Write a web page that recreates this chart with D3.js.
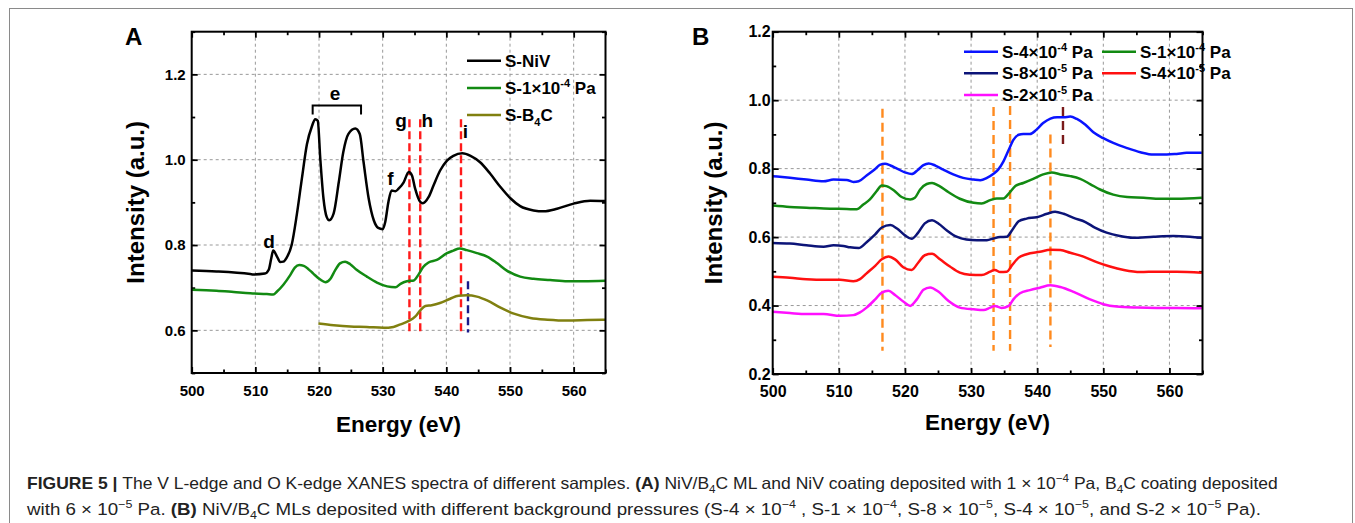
<!DOCTYPE html>
<html>
<head>
<meta charset="utf-8">
<script src="https://cdn.jsdelivr.net/npm/d3@7"></script>
<style>
  body { margin: 0; background: #fff; }
  svg { display: block; font-family: "Liberation Sans", Arial, sans-serif; }
</style>
</head>
<body>
<svg id="chart" width="1355" height="523"></svg>
<script>
// ---- panel A data (eV, intensity) ----
const nivA = [[500,0.740],[503.9,0.738],[509.2,0.732],[509.7,0.731],[511.5,0.733],[512.1,0.742],[512.5,0.769],[512.8,0.787],[513.4,0.773],[513.9,0.760],[514.4,0.761],[514.9,0.770],[515.7,0.800],[516.5,0.870],[517.3,0.955],[518.1,1.036],[518.9,1.079],[519.4,1.095],[519.8,1.091],[520.2,1.002],[520.7,0.909],[521.2,0.866],[521.6,0.858],[522.3,0.874],[523.1,0.947],[523.8,1.017],[524.6,1.060],[525.7,1.073],[526.4,1.060],[527.0,0.994],[527.8,0.909],[528.6,0.858],[529.3,0.840],[530.0,0.837],[530.4,0.854],[530.9,0.901],[531.4,0.928],[532.0,0.926],[532.5,0.932],[533.3,0.947],[534.1,0.971],[534.6,0.963],[535.1,0.932],[535.9,0.901],[536.3,0.898],[537.2,0.912],[538.0,0.940],[539.0,0.974],[540.1,0.998],[541.1,1.009],[542.5,1.015],[543.8,1.009],[545.3,0.994],[546.9,0.967],[548.5,0.936],[550.1,0.909],[551.6,0.891],[553.7,0.881],[555.3,0.879],[557.4,0.885],[560.0,0.897],[562.6,0.904],[565.0,0.903]];
const p1e4A = [[500,0.695],[503.9,0.693],[506.6,0.690],[509.2,0.687],[511.8,0.685],[512.8,0.684],[513.4,0.691],[514.4,0.707],[515.5,0.730],[516.2,0.747],[516.9,0.753],[517.6,0.751],[518.3,0.744],[519.1,0.733],[520.2,0.719],[521.0,0.713],[521.8,0.721],[522.5,0.740],[523.3,0.757],[524.1,0.761],[524.9,0.755],[525.9,0.742],[527.5,0.726],[529.1,0.712],[530.7,0.703],[532.0,0.701],[532.8,0.709],[533.8,0.715],[534.9,0.717],[535.6,0.730],[536.4,0.749],[537.2,0.759],[538.5,0.765],[540.1,0.781],[541.1,0.787],[542.1,0.792],[543.2,0.788],[544.8,0.781],[546.4,0.773],[548.0,0.757],[549.5,0.740],[551.6,0.726],[553.7,0.721],[556.3,0.718],[559.0,0.715],[561.6,0.715],[565.0,0.716]];
const b4cA = [[519.9,0.616],[522.3,0.612],[524.9,0.609],[527.5,0.608],[530.1,0.606],[531.7,0.608],[532.8,0.614],[534.1,0.622],[535.1,0.632],[535.9,0.647],[536.7,0.657],[537.7,0.659],[539.0,0.664],[540.6,0.674],[541.9,0.681],[543.2,0.682],[544.8,0.679],[546.4,0.670],[548.5,0.653],[550.6,0.639],[553.2,0.629],[555.9,0.625],[559.0,0.623],[562.1,0.624],[565.0,0.625]];

// ---- panel B data (eV, intensity) ----
const p4e4B = [[500,0.778],[502.6,0.773],[505.1,0.768],[507.7,0.763],[509.2,0.768],[511.2,0.767],[512.2,0.761],[513.0,0.763],[514.2,0.780],[515.5,0.799],[516.2,0.811],[517.0,0.814],[517.8,0.809],[518.8,0.800],[520.0,0.789],[521.0,0.784],[522.0,0.797],[522.8,0.810],[523.6,0.815],[524.6,0.809],[525.8,0.797],[527.3,0.783],[528.8,0.773],[530.4,0.768],[531.4,0.766],[532.4,0.773],[533.4,0.785],[534.1,0.797],[534.9,0.821],[535.7,0.855],[536.4,0.884],[537.2,0.899],[537.9,0.901],[538.9,0.901],[539.9,0.914],[540.9,0.933],[542.0,0.946],[543.0,0.950],[544.0,0.950],[545.0,0.952],[546.0,0.945],[547.3,0.928],[548.5,0.906],[550.0,0.889],[551.5,0.875],[553.6,0.860],[555.6,0.848],[557.6,0.841],[559.6,0.841],[561.1,0.843],[562.6,0.846],[564.9,0.846]];
const p1e4B = [[500,0.692],[502.6,0.688],[505.1,0.686],[508.7,0.683],[511.2,0.682],[512.7,0.681],[513.7,0.695],[514.7,0.710],[515.7,0.734],[516.5,0.751],[517.2,0.749],[518.3,0.737],[519.5,0.717],[520.8,0.710],[521.5,0.715],[522.3,0.739],[523.3,0.755],[524.1,0.758],[525.1,0.750],[526.6,0.731],[528.3,0.712],[530.4,0.700],[531.6,0.698],[532.9,0.708],[533.9,0.713],[534.9,0.713],[535.7,0.727],[536.7,0.749],[537.9,0.758],[539.4,0.770],[540.9,0.783],[542.2,0.789],[543.5,0.783],[545.0,0.778],[546.5,0.770],[548.0,0.755],[549.5,0.739],[551.5,0.724],[553.6,0.717],[556.1,0.715],[558.6,0.712],[561.1,0.712],[564.9,0.715]];
const p8e5B = [[500,0.583],[502.6,0.581],[505.1,0.576],[507.7,0.572],[509.2,0.576],[510.7,0.574],[511.7,0.570],[513.0,0.568],[514.2,0.585],[515.5,0.608],[516.5,0.628],[517.8,0.635],[518.8,0.625],[520.0,0.605],[521.0,0.595],[522.0,0.613],[523.0,0.640],[524.1,0.649],[525.1,0.639],[526.3,0.620],[527.8,0.601],[529.3,0.593],[530.9,0.591],[532.4,0.591],[533.4,0.596],[534.4,0.600],[535.4,0.601],[536.2,0.620],[537.2,0.646],[538.4,0.654],[539.9,0.658],[541.5,0.668],[542.7,0.674],[544.0,0.668],[545.5,0.656],[547.3,0.644],[548.8,0.627],[550.5,0.613],[552.5,0.603],[554.5,0.598],[557.6,0.601],[560.6,0.603],[563.1,0.601],[564.9,0.598]];
const p4e5B = [[500,0.484],[502.6,0.481],[505.1,0.477],[507.7,0.475],[510.2,0.475],[512.2,0.471],[513.2,0.477],[514.2,0.494],[515.5,0.516],[516.5,0.535],[517.5,0.543],[518.5,0.535],[519.8,0.511],[521.0,0.504],[522.0,0.525],[523.0,0.547],[524.1,0.551],[525.3,0.535],[526.8,0.514],[528.3,0.496],[529.8,0.490],[531.6,0.489],[532.9,0.499],[533.6,0.504],[534.4,0.498],[535.4,0.499],[536.2,0.518],[537.2,0.540],[538.4,0.550],[540.4,0.557],[542.0,0.563],[543.5,0.562],[545.0,0.554],[547.0,0.543],[549.0,0.527],[551.0,0.514],[553.1,0.504],[555.6,0.498],[558.1,0.499],[561.1,0.499],[564.9,0.496]];
const p2e5B = [[500,0.382],[502.6,0.378],[505.1,0.375],[507.7,0.375],[510.2,0.370],[512.2,0.372],[513.2,0.380],[514.2,0.394],[515.5,0.418],[516.5,0.438],[517.5,0.443],[518.5,0.431],[519.8,0.411],[520.8,0.399],[521.8,0.418],[522.8,0.446],[523.8,0.453],[525.1,0.440],[526.6,0.413],[528.3,0.394],[530.4,0.389],[531.9,0.387],[532.9,0.394],[533.6,0.399],[534.6,0.393],[535.7,0.399],[536.4,0.418],[537.4,0.436],[538.9,0.445],[540.4,0.452],[542.0,0.459],[543.5,0.454],[545.5,0.440],[548.0,0.418],[550.0,0.404],[552.0,0.397],[555.1,0.394],[558.1,0.393],[561.1,0.393],[564.9,0.392]];

// ---- ticks ----
const xMajor = [500, 510, 520, 530, 540, 550, 560];
const xMinor = [505, 515, 525, 535, 545, 555, 565];
const yMajorA = [0.6, 0.8, 1.0, 1.2];
const yMinorA = [0.5, 0.7, 0.9, 1.1, 1.3];
const yMajorB = [0.2, 0.4, 0.6, 0.8, 1.0, 1.2];
const yMinorB = [0.3, 0.5, 0.7, 0.9, 1.1];

// ---- marker lines: [eV, from, to] ----
const redMarksA = [[534.2, 0.59, 1.095], [535.9, 0.59, 1.095], [542.3, 0.59, 1.095]];
const blueMarksA = [[543.4, 0.595, 0.715]];
const orangeMarksB = [[516.6, 0.268, 0.975], [533.4, 0.268, 0.98], [535.9, 0.268, 0.983], [542.0, 0.279, 0.90]];
const darkRedMarksB = [[543.9, 0.867, 0.98]];

// peak letters in panel A: [label, eV, intensity]
const peakLabelsA = [["d", 512.15, 0.792], ["e", 522.5, 1.141], ["f", 531.2, 0.941], ["g", 532.9, 1.076], ["h", 537.0, 1.076], ["i", 543.0, 1.050]];
const bracketA = [519.0, 526.6, 1.127, 1.106];

const svg = d3.select("#chart");

// outer frame of the figure
svg.append("rect")
  .attr("x", 9.5).attr("y", 8.5)
  .attr("width", 1343).attr("height", 530)
  .attr("fill", "none").attr("stroke", "#8a8a8a").attr("stroke-width", 1);

const layerGrid = svg.append("g");
const layerMain = svg.append("g");

function panel(cfg) {
  const g = layerMain.append("g");
  const x = d3.scaleLinear().domain([500, 565]).range([cfg.left, cfg.right]);
  const y = d3.scaleLinear().domain(cfg.yDomain).range([cfg.bottom, cfg.top]);

  // dashed grid
  layerGrid.append("g").selectAll("line")
    .data(xMajor.filter(v => v > 500))
    .join("line")
    .attr("x1", d => x(d)).attr("x2", d => x(d))
    .attr("y1", cfg.top).attr("y2", cfg.bottom)
    .attr("stroke", "#999").attr("stroke-width", 1).attr("stroke-dasharray", "3,3");
  layerGrid.append("g").selectAll("line")
    .data(cfg.yMajor.filter(v => v < cfg.yDomain[1]))
    .join("line")
    .attr("x1", cfg.left).attr("x2", cfg.right)
    .attr("y1", d => y(d)).attr("y2", d => y(d))
    .attr("stroke", "#999").attr("stroke-width", 1).attr("stroke-dasharray", "3,3");

  // axes, ticks pointing inward on all four sides
  const fs = cfg.tickFont;
  const styleAxis = sel => {
    sel.select(".domain").remove();
    sel.selectAll(".tick line").attr("stroke", "#000").attr("stroke-width", 1.8);
    sel.selectAll("text").attr("font-size", fs).attr("font-weight", "bold").attr("fill", "#000")
      .attr("font-family", "'Liberation Sans', Arial, sans-serif");
  };
  const axes = [
    [d3.axisBottom(x).tickValues(xMajor).tickSize(-6).tickPadding(12).tickFormat(d3.format("d")), 0, cfg.bottom],
    [d3.axisBottom(x).tickValues(xMinor).tickSize(-3.5).tickFormat(""), 0, cfg.bottom],
    [d3.axisTop(x).tickValues(xMajor).tickSize(-6).tickFormat(""), 0, cfg.top],
    [d3.axisTop(x).tickValues(xMinor).tickSize(-3.5).tickFormat(""), 0, cfg.top],
    [d3.axisLeft(y).tickValues(cfg.yMajor).tickSize(-6).tickPadding(cfg.yPad).tickFormat(d3.format(".1f")), cfg.left, 0],
    [d3.axisLeft(y).tickValues(cfg.yMinor).tickSize(-3.5).tickFormat(""), cfg.left, 0],
    [d3.axisRight(y).tickValues(cfg.yMajor).tickSize(-6).tickFormat(""), cfg.right, 0],
    [d3.axisRight(y).tickValues(cfg.yMinor).tickSize(-3.5).tickFormat(""), cfg.right, 0]
  ];
  axes.forEach(a => {
    g.append("g").attr("transform", `translate(${a[1]},${a[2]})`).call(a[0]).call(styleAxis);
  });

  // marker lines
  cfg.marks.forEach(m => {
    g.append("g").selectAll("line")
      .data(m.data)
      .join("line")
      .attr("x1", d => x(d[0])).attr("x2", d => x(d[0]))
      .attr("y1", d => y(d[2])).attr("y2", d => y(d[1]))
      .attr("stroke", m.color).attr("stroke-width", 2.4).attr("stroke-dasharray", m.dash);
  });

  // spectra
  const line = d3.line().x(d => x(d[0])).y(d => y(d[1])).curve(d3.curveMonotoneX);
  g.append("g").selectAll("path")
    .data(cfg.series)
    .join("path")
    .attr("d", d => line(d.data))
    .attr("fill", "none")
    .attr("stroke", d => d.color)
    .attr("stroke-width", 2.5)
    .attr("stroke-linejoin", "round");

  // frame
  g.append("rect")
    .attr("x", cfg.left).attr("y", cfg.top)
    .attr("width", cfg.right - cfg.left).attr("height", cfg.bottom - cfg.top)
    .attr("fill", "none").attr("stroke", "#000").attr("stroke-width", 2);

  // axis titles
  g.append("text")
    .attr("x", (cfg.left + cfg.right) / 2).attr("y", cfg.xTitleY)
    .attr("text-anchor", "middle").attr("font-size", 22.5).attr("font-weight", "bold")
    .text("Energy (eV)");
  g.append("text")
    .attr("transform", `translate(${cfg.yTitleX},${(cfg.top + cfg.bottom) / 2}) rotate(-90)`)
    .attr("text-anchor", "middle").attr("font-size", 24).attr("font-weight", "bold")
    .text("Intensity (a.u.)");

  // panel letter
  g.append("text")
    .attr("x", cfg.letterX).attr("y", 45)
    .attr("font-size", 24).attr("font-weight", "bold")
    .text(cfg.letter);

  // legend
  cfg.legend.forEach(l => {
    g.append("line")
      .attr("x1", l.x).attr("x2", l.x + 34)
      .attr("y1", l.y).attr("y2", l.y)
      .attr("stroke", l.color).attr("stroke-width", 2.4);
    const t = g.append("text")
      .attr("x", l.x + 38).attr("y", l.y + 6)
      .attr("font-size", 17).attr("font-weight", "bold");
    l.parts.forEach(p => {
      const s = t.append("tspan").text(p[0]);
      if (p[1] === "sup") s.attr("font-size", 11).attr("dy", -7);
      if (p[1] === "sub") s.attr("font-size", 11).attr("dy", 5);
      if (p[1] === "back-sup") s.attr("dy", 7);
      if (p[1] === "back-sub") s.attr("dy", -5);
    });
  });

  return { g, x, y };
}

const A = panel({
  left: 191.7, right: 605.5, top: 31.7, bottom: 373,
  yDomain: [0.5, 1.3], yMajor: yMajorA, yMinor: yMinorA,
  tickFont: 15, yPad: 6, xTitleY: 432, yTitleX: 144, letter: "A", letterX: 125,
  marks: [
    { data: redMarksA, color: "#ff1a1a", dash: "8,4" },
    { data: blueMarksA, color: "#1a1a8c", dash: "8,4" }
  ],
  series: [
    { data: nivA, color: "#000000" },
    { data: p1e4A, color: "#128a12" },
    { data: b4cA, color: "#808010" }
  ],
  legend: [
    { x: 467, y: 60.7, color: "#000000", parts: [["S-NiV"]] },
    { x: 467, y: 88, color: "#128a12", parts: [["S-1×10"], ["-4", "sup"], [" Pa", "back-sup"]] },
    { x: 467, y: 115, color: "#808010", parts: [["S-B"], ["4", "sub"], ["C", "back-sub"]] }
  ]
});

// peak letters and bracket in panel A
A.g.append("g").selectAll("text")
  .data(peakLabelsA)
  .join("text")
  .attr("x", d => A.x(d[1])).attr("y", d => A.y(d[2]))
  .attr("text-anchor", "middle").attr("font-size", 19).attr("font-weight", "bold")
  .text(d => d[0]);
A.g.append("path")
  .attr("d", `M${A.x(bracketA[0])},${A.y(bracketA[3])}V${A.y(bracketA[2])}H${A.x(bracketA[1])}V${A.y(bracketA[3])}`)
  .attr("fill", "none").attr("stroke", "#000").attr("stroke-width", 2);

panel({
  left: 772.7, right: 1202.5, top: 31.7, bottom: 374,
  yDomain: [0.2, 1.2], yMajor: yMajorB, yMinor: yMinorB,
  tickFont: 16, yPad: 2, xTitleY: 430, yTitleX: 722, letter: "B", letterX: 692,
  marks: [
    { data: orangeMarksB, color: "#ff8a1e", dash: "9,5" },
    { data: darkRedMarksB, color: "#7a1a1a", dash: "9,5" }
  ],
  series: [
    { data: p4e4B, color: "#0a14ff" },
    { data: p1e4B, color: "#128a12" },
    { data: p8e5B, color: "#0c1478" },
    { data: p4e5B, color: "#ff1010" },
    { data: p2e5B, color: "#ff10ff" }
  ],
  legend: [
    { x: 964, y: 51.7, color: "#0a14ff", parts: [["S-4×10"], ["-4", "sup"], [" Pa", "back-sup"]] },
    { x: 1102, y: 51.7, color: "#128a12", parts: [["S-1×10"], ["-4", "sup"], [" Pa", "back-sup"]] },
    { x: 964, y: 73.3, color: "#0c1478", parts: [["S-8×10"], ["-5", "sup"], [" Pa", "back-sup"]] },
    { x: 1102, y: 73.3, color: "#ff1010", parts: [["S-4×10"], ["-5", "sup"], [" Pa", "back-sup"]] },
    { x: 964, y: 95, color: "#ff10ff", parts: [["S-2×10"], ["-5", "sup"], [" Pa", "back-sup"]] }
  ]
});

// ---- caption ----
const captionLine1 = [["FIGURE 5 | ", "b"], ["The V L-edge and O K-edge XANES spectra of different samples. "], ["(A)", "b"], [" NiV/B"], ["4", "sub"], ["C ML and NiV coating deposited with 1 × 10"], ["−4", "sup"], [" Pa, B"], ["4", "sub"], ["C coating deposited"]];
const captionLine2 = [["with 6 × 10"], ["−5", "sup"], [" Pa. "], ["(B)", "b"], [" NiV/B"], ["4", "sub"], ["C MLs deposited with different background pressures (S-4 × 10"], ["−4", "sup"], [" , S-1 × 10"], ["−4", "sup"], [", S-8 × 10"], ["−5", "sup"], [", S-4 × 10"], ["−5", "sup"], [", and S-2 × 10"], ["−5", "sup"], [" Pa)."]];

function captionLine(parts, x0, baseline, width) {
  const t = svg.append("text")
    .attr("x", 0).attr("y", 0)
    .attr("font-size", 16.5).attr("fill", "#222")
    .attr("font-family", "'Liberation Sans Narrow', 'Liberation Sans', Arial, sans-serif");
  let shift = 0;
  parts.forEach(p => {
    const s = t.append("tspan").text(p[0]);
    let want = 0;
    if (p[1] === "sup") { s.attr("font-size", 11); want = -7; }
    if (p[1] === "sub") { s.attr("font-size", 11); want = 4; }
    if (p[1] === "b") s.attr("font-weight", "bold");
    if (want !== shift) s.attr("dy", want - shift);
    shift = want;
  });
  const w = t.node().getComputedTextLength();
  t.attr("transform", `translate(${x0},${baseline}) scale(${width / w},1)`);
}
captionLine(captionLine1, 27, 489, 1251);
captionLine(captionLine2, 27, 515, 1235);
</script>
</body>
</html>
